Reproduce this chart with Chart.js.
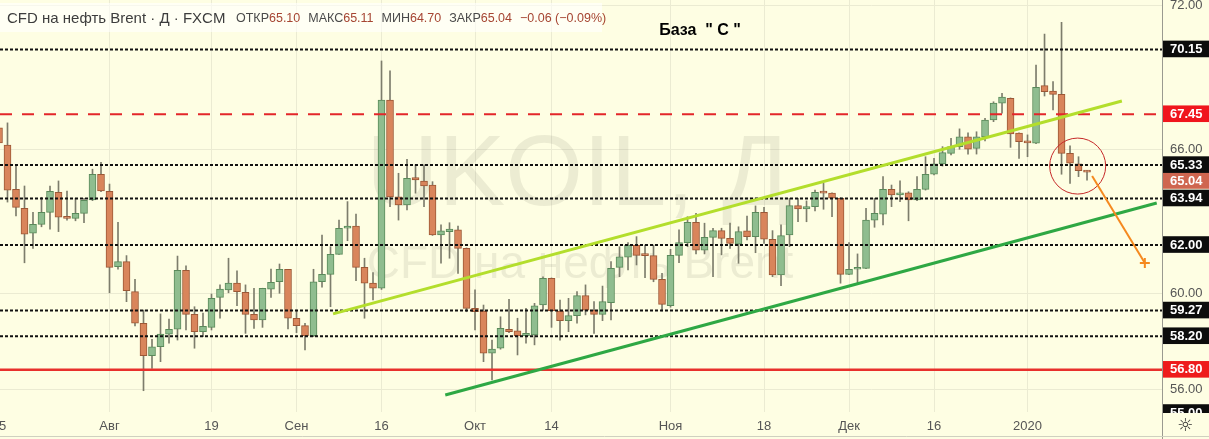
<!DOCTYPE html>
<html>
<head>
<meta charset="utf-8">
<script src="https://cdn.jsdelivr.net/npm/chart.js@4.4.0/dist/chart.umd.min.js"></script>
<style>
  html, body { margin: 0; padding: 0; background: #fefee3; }
  #wrap { width: 1209px; height: 439px; position: relative; }
</style>
</head>
<body>
<div id="wrap"><canvas id="chart"></canvas></div>
<script>
// Свечи UKOIL (CFD на нефть Brent), дневки. Индекс 0 = 15 июля 2019, дальше подряд торговые дни
const opens = [
  66.88, 66.17, 64.32, 63.53, 62.49, 62.86, 63.36, 64.20, 63.17, 63.11,
  63.32, 63.88, 64.95, 64.24, 61.10, 61.31, 60.06, 58.74, 57.39, 57.76,
  58.29, 58.49, 60.95, 59.11, 58.39, 58.57, 59.82, 60.13, 60.41, 60.03,
  59.11, 58.88, 60.16, 60.47, 60.99, 58.95, 58.64, 58.22, 60.47, 60.78,
  61.61, 62.70, 62.79, 61.07, 60.41, 60.20, 68.04, 64.01, 63.67, 64.81,
  64.67, 64.50, 62.42, 62.56, 62.63, 61.86, 59.36, 59.25, 57.49, 57.70,
  58.49, 58.42, 58.21, 58.25, 59.50, 60.61, 59.25, 58.85, 59.06, 59.89,
  59.29, 59.11, 59.60, 61.07, 61.49, 62.00, 61.57, 61.56, 60.57, 59.47,
  61.57, 62.10, 62.95, 61.79, 62.32, 62.60, 62.28, 62.04, 62.59, 62.35,
  63.36, 62.24, 60.75, 62.42, 63.64, 63.50, 63.60, 64.17, 64.16, 63.95,
  60.78, 60.99, 61.03, 63.04, 63.29, 64.32, 64.09, 64.18, 63.88, 64.32,
  64.95, 65.38, 65.82, 66.10, 66.51, 66.03, 66.51, 67.21, 67.91, 68.11,
  66.66, 66.31, 66.24, 68.64, 68.42, 68.28, 65.82, 65.38, 65.10
];
const highs = [
  66.95, 67.09, 65.34, 64.46, 63.36, 63.99, 64.46, 64.67, 64.25, 63.95,
  63.95, 65.16, 65.45, 64.54, 62.95, 61.56, 60.57, 59.29, 58.07, 59.13,
  58.91, 61.54, 61.13, 59.43, 59.16, 59.96, 60.34, 61.45, 60.92, 60.34,
  60.20, 60.20, 61.00, 61.21, 60.99, 59.29, 58.74, 60.99, 62.42, 61.93,
  63.04, 63.81, 63.29, 61.45, 60.85, 69.67, 69.26, 64.99, 65.57, 65.34,
  65.34, 64.64, 62.84, 62.93, 62.79, 61.88, 60.13, 59.50, 58.04, 59.01,
  59.74, 58.95, 59.36, 59.57, 60.68, 60.63, 59.71, 59.78, 60.06, 60.34,
  59.64, 60.29, 61.31, 61.93, 62.10, 62.35, 62.00, 62.00, 60.82, 61.82,
  62.63, 63.18, 63.32, 62.91, 62.70, 62.70, 62.91, 62.76, 63.21, 63.63,
  63.57, 62.60, 62.84, 63.95, 63.95, 63.84, 64.29, 64.57, 64.18, 63.97,
  62.10, 61.63, 63.53, 63.95, 64.85, 64.50, 64.68, 64.22, 64.85, 65.68,
  65.61, 66.10, 66.45, 66.84, 66.68, 66.72, 67.28, 67.97, 68.32, 68.13,
  66.68, 66.59, 69.50, 70.79, 68.81, 71.28, 66.13, 65.68, 65.11
];
const lows = [
  66.10, 63.79, 63.21, 61.26, 61.86, 62.76, 62.66, 62.56, 63.04, 63.01,
  62.93, 63.85, 64.22, 60.01, 60.99, 59.64, 58.63, 55.93, 56.86, 57.14,
  57.91, 58.04, 58.46, 57.70, 58.18, 58.46, 58.95, 60.01, 59.47, 58.32,
  58.53, 58.57, 59.82, 59.99, 58.50, 58.35, 57.63, 58.18, 60.24, 59.43,
  61.61, 62.18, 60.51, 58.95, 59.71, 60.15, 63.60, 63.04, 63.46, 64.16,
  63.60, 62.40, 61.24, 61.45, 60.82, 59.22, 58.46, 57.14, 56.38, 57.66,
  58.35, 57.42, 57.91, 57.84, 59.29, 58.57, 58.04, 58.39, 58.74, 59.09,
  58.32, 58.85, 58.88, 60.68, 60.96, 61.17, 60.64, 60.47, 59.25, 59.41,
  61.26, 61.93, 61.63, 61.63, 60.68, 61.59, 61.86, 61.24, 62.21, 61.68,
  62.07, 60.68, 60.31, 61.93, 62.97, 62.97, 63.42, 63.49, 63.18, 60.41,
  60.76, 60.43, 61.01, 62.74, 62.84, 63.60, 63.81, 63.01, 63.85, 64.29,
  64.92, 65.29, 65.75, 65.99, 65.79, 65.79, 66.34, 67.14, 67.49, 66.07,
  65.61, 65.68, 66.22, 68.21, 67.63, 64.95, 64.57, 64.85, 64.70
];
const closes = [
  66.25, 64.29, 63.57, 62.45, 62.86, 63.36, 64.24, 63.16, 63.11, 63.32,
  63.86, 64.95, 64.25, 61.07, 61.31, 60.10, 58.74, 57.39, 57.76, 58.29,
  58.49, 60.95, 59.11, 58.39, 58.61, 59.78, 60.16, 60.41, 60.06, 59.11,
  58.88, 60.20, 60.45, 60.99, 58.95, 58.64, 58.22, 60.47, 60.78, 61.61,
  62.70, 62.79, 61.07, 60.41, 60.20, 68.04, 64.01, 63.67, 64.78, 64.71,
  64.46, 62.42, 62.59, 62.66, 61.86, 59.36, 59.22, 57.49, 57.66, 58.53,
  58.39, 58.21, 58.32, 59.47, 60.61, 59.26, 58.85, 59.06, 59.89, 59.29,
  59.11, 59.64, 61.03, 61.51, 62.00, 61.57, 61.56, 60.57, 59.53, 61.57,
  62.10, 62.95, 61.79, 62.32, 62.60, 62.28, 62.07, 62.56, 62.35, 63.36,
  62.24, 60.75, 62.39, 63.64, 63.50, 63.60, 64.20, 64.16, 63.95, 60.78,
  60.99, 61.03, 63.04, 63.32, 64.32, 64.09, 64.18, 63.88, 64.32, 64.95,
  65.38, 65.85, 66.10, 66.51, 65.99, 66.51, 67.21, 67.91, 68.16, 66.63,
  66.31, 66.26, 68.57, 68.39, 68.28, 65.82, 65.41, 65.10, 65.04
];

// подписи оси времени (индекс свечи -> текст)
const dateTickIdx = [0, 13, 25, 35, 45, 56, 65, 79, 90, 100, 110, 121];
const dateTickText = ['15', 'Авг', '19', 'Сен', '16', 'Окт', '14', 'Ноя', '18', 'Дек', '16', '2020'];

// обычные деления шкалы цены
const priceTicks = [56, 60, 66, 68, 72];

// уровни
const blackLevels = [70.15, 65.33, 63.94, 62.00, 59.27, 58.20, 55.00];
const redDashLevels = [67.45];
const redSolidLevels = [56.80];

// ручные построения: [индекс свечи, цена]
const upperTrend = [[39.3, 59.13], [132.1, 68.0]];
const lowerTrend = [[52.5, 55.75], [136.2, 63.75]];
const arrowPath = [[128.6, 64.88], [134.8, 61.25]];
const circleMark = { x: 126.9, y: 65.29 };

// видимый диапазон
const X_MIN = 0.118, X_MAX = 136.82;
const Y_MIN = 55.043, Y_MAX = 72.21;

const BG = '#fefee3';
const UP_FILL = '#8fbd8f', UP_LINE = '#5a8a5a';
const DN_FILL = '#d9855b', DN_LINE = '#9c5836';
const WICK = '#7d7d6c';
const FONT = "'Liberation Sans', Arial, sans-serif";

Chart.defaults.font.family = FONT;

const last = closes.length - 1;
const isUp = i => closes[i] >= opens[i];

const wickData = lows.map((l, i) => ({ x: i, y: [l, highs[i]] }));
const bodyData = opens.map((o, i) => ({ x: i, y: [o, closes[i]] }));

function hline(v, color, width, dash) {
  return {
    type: 'line',
    data: [{ x: X_MIN, y: v }, { x: X_MAX, y: v }],
    borderColor: color,
    borderWidth: width,
    borderDash: dash,
    pointRadius: 0,
    fill: false,
    order: 3
  };
}

function segment(pts, color, width, extra) {
  return Object.assign({
    type: 'line',
    data: pts.map(p => ({ x: p[0], y: p[1] })),
    borderColor: color,
    borderWidth: width,
    pointRadius: 0,
    fill: false,
    order: 2
  }, extra || {});
}

// метки справа: уровни в плашках
const levelLabels = [];
blackLevels.forEach(v => levelLabels.push({ value: v, text: v.toFixed(2), bg: '#0c0c0c' }));
redDashLevels.forEach(v => levelLabels.push({ value: v, text: v.toFixed(2), bg: '#f0151d' }));
redSolidLevels.forEach(v => levelLabels.push({ value: v, text: v.toFixed(2), bg: '#ee1c1c' }));
// текущая цена; TradingView сдвигает её плашку ниже, чтобы не налезала на 65.33
levelLabels.push({ value: closes[last] - 0.37, text: closes[last].toFixed(2), bg: '#cf6650' });

const labelFor = v => levelLabels.find(l => Math.abs(l.value - v) < 1e-6);
const lvl = ctx => (ctx && ctx.tick) ? labelFor(ctx.tick.value) : undefined;

const decor = {
  id: 'decor',
  beforeDraw(chart) {
    const c = chart.ctx;
    c.save();
    c.fillStyle = BG;
    c.fillRect(0, 0, chart.width, chart.height);
    c.restore();
  },
  beforeDatasetsDraw(chart) {
    const c = chart.ctx;
    c.save();
    c.fillStyle = 'rgba(110, 110, 90, 0.12)';
    c.textAlign = 'center';
    c.textBaseline = 'alphabetic';
    c.font = '100px ' + FONT;
    c.fillText('UKOIL, Д', 578, 205);
    c.font = '46px ' + FONT;
    c.fillText('CFD на нефть Brent', 580, 278);
    c.restore();
  },
  afterDraw(chart) {
    const c = chart.ctx;
    const a = chart.chartArea;
    c.save();
    // угол под шкалой цены
    c.fillStyle = BG;
    c.fillRect(a.right + 1, a.bottom + 1, chart.width - a.right, chart.height - a.bottom);
    c.strokeStyle = '#9a9a90';
    c.lineWidth = 1;
    c.beginPath();
    c.moveTo(a.right + 0.5, a.bottom);
    c.lineTo(a.right + 0.5, chart.height);
    c.stroke();
    c.strokeStyle = '#d0d0c0';
    c.beginPath();
    c.moveTo(0, chart.height - 2.5);
    c.lineTo(chart.width, chart.height - 2.5);
    c.stroke();
    c.fillStyle = '#333';
    c.font = '18px DejaVu Sans';
    c.textAlign = 'center';
    c.textBaseline = 'middle';
    c.fillText('☼', 1185, 426);

    // шапка
    c.fillStyle = 'rgba(255, 255, 255, 0.6)';
    c.fillRect(0, 3, 602, 29);
    c.textAlign = 'left';
    c.textBaseline = 'alphabetic';
    c.font = '15px ' + FONT;
    c.fillStyle = '#3d3d3d';
    c.fillText('CFD на нефть Brent · Д · FXCM', 7, 23);
    const chg = closes[last] - closes[last - 1];
    const pct = chg / closes[last - 1] * 100;
    const fmt = v => (v < 0 ? '−' : '') + Math.abs(v).toFixed(2);
    const parts = [
      ['ОТКР', opens[last].toFixed(2)],
      ['МАКС', highs[last].toFixed(2)],
      ['МИН', lows[last].toFixed(2)],
      ['ЗАКР', closes[last].toFixed(2)],
      ['', fmt(chg) + ' (' + fmt(pct) + '%)']
    ];
    c.font = '12.5px ' + FONT;
    let x = 236;
    parts.forEach(p => {
      c.fillStyle = '#4a4a4a';
      c.fillText(p[0], x, 22);
      x += c.measureText(p[0]).width;
      c.fillStyle = '#a64532';
      c.fillText(p[1], x, 22);
      x += c.measureText(p[1]).width + 8;
    });

    c.fillStyle = '#000';
    c.font = 'bold 16px ' + FONT;
    c.textAlign = 'center';
    c.fillText('База  " С "', 700, 35);
    c.restore();
  }
};

new Chart(document.getElementById('chart'), {
  type: 'bar',
  data: {
    datasets: [
      {
        label: 'wicks',
        data: wickData,
        backgroundColor: WICK,
        barThickness: 1,
        grouped: false,
        order: 5
      },
      {
        label: 'bodies',
        data: bodyData,
        backgroundColor: opens.map((o, i) => isUp(i) ? UP_FILL : DN_FILL),
        borderColor: opens.map((o, i) => isUp(i) ? UP_LINE : DN_LINE),
        borderWidth: 1,
        borderSkipped: false,
        barThickness: 7,
        minBarLength: 2,
        grouped: false,
        order: 4
      },
      ...blackLevels.map(v => hline(v, '#111', 2, [3, 2])),
      ...redDashLevels.map(v => hline(v, '#e3262a', 2, [12, 10])),
      ...redSolidLevels.map(v => hline(v, '#e8302c', 2.5, [])),
      segment(upperTrend, '#b3de2c', 3),
      segment(lowerTrend, '#2ea844', 3),
      segment(arrowPath, '#f5891f', 2, {
        pointRadius: [0, 5],
        pointStyle: 'cross',
        pointBorderColor: '#f5891f',
        pointBorderWidth: 2,
        order: 1
      }),
      {
        type: 'bubble',
        data: [{ x: circleMark.x, y: circleMark.y, r: 28 }],
        backgroundColor: 'rgba(0,0,0,0)',
        borderColor: '#c62828',
        borderWidth: 1,
        order: 1
      }
    ]
  },
  options: {
    responsive: true,
    maintainAspectRatio: false,
    animation: false,
    events: [],
    layout: { padding: 0, autoPadding: false },
    plugins: {
      legend: { display: false },
      tooltip: { enabled: false }
    },
    scales: {
      x: {
        type: 'linear',
        min: X_MIN,
        max: X_MAX,
        offset: false,
        grid: { color: '#ebebd2', offset: false, drawTicks: false },
        border: { display: false },
        afterBuildTicks: s => { s.ticks = dateTickIdx.map(v => ({ value: v })); },
        afterFit: s => { s.height = 27; s.paddingLeft = 0; s.paddingRight = 0; },
        ticks: {
          autoSkip: false,
          maxRotation: 0,
          padding: 7,
          color: '#555',
          font: { size: 13 },
          callback: v => dateTickText[dateTickIdx.indexOf(v)]
        }
      },
      y: {
        type: 'linear',
        position: 'right',
        min: Y_MIN,
        max: Y_MAX,
        grid: {
          drawTicks: false,
          color: ctx => lvl(ctx) ? 'rgba(0,0,0,0)' : '#ebebd2'
        },
        border: { display: true, color: '#9a9a90' },
        afterBuildTicks: s => {
          const vals = priceTicks.filter(v => !levelLabels.some(l => Math.abs(l.value - v) < 0.6))
            .concat(levelLabels.map(l => l.value));
          vals.sort((a, b) => a - b);
          s.ticks = vals.map(v => ({ value: v }));
        },
        afterFit: s => { s.width = 47; s.paddingTop = 0; s.paddingBottom = 0; },
        ticks: {
          autoSkip: false,
          padding: 8,
          callback: v => { const l = labelFor(v); return l ? l.text : v.toFixed(2); },
          color: ctx => lvl(ctx) ? '#ffffff' : '#555555',
          font: ctx => lvl(ctx) ? { size: 13, weight: 'bold' } : { size: 13 },
          showLabelBackdrop: ctx => !!lvl(ctx),
          backdropColor: ctx => { const l = lvl(ctx); return l ? l.bg : 'rgba(0,0,0,0)'; },
          backdropPadding: { top: 1, bottom: 0, left: 7, right: 8 }
        }
      }
    }
  },
  plugins: [decor]
});
</script>
</body>
</html>
